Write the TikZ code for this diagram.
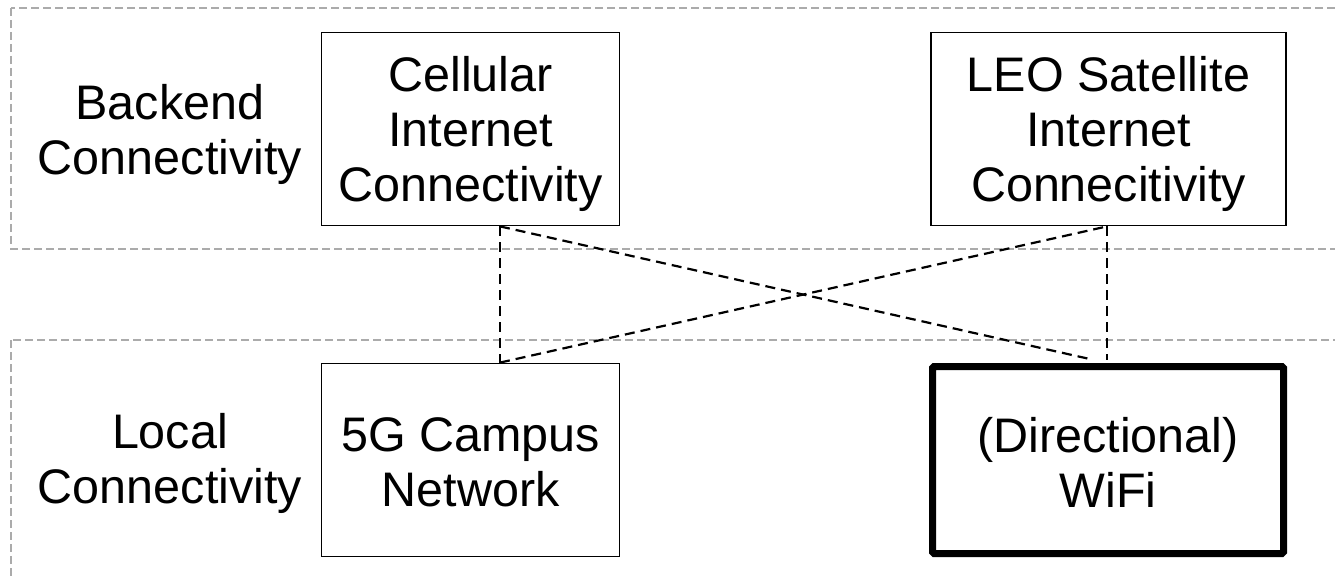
\documentclass[tikz,border=0pt]{standalone}
\usepackage{fontspec}
\setmainfont{Liberation Sans}
\usetikzlibrary{calc}
\definecolor{regiongray}{HTML}{ABABAB}
\begin{document}
\begin{tikzpicture}[x=1pt,y=-1pt,
  region/.style={draw=regiongray,line width=1.8pt,dash pattern=on 8pt off 4pt},
  txt/.style={font=\fontsize{48.5}{55}\selectfont,align=center,inner sep=0pt},
  box/.style={draw=black,line width=1.8pt,minimum width=298pt,minimum height=193pt,inner sep=0pt},
  boldbox/.style={draw=black,line width=7pt,rounded corners=1.5pt,minimum width=351pt,minimum height=187pt,inner sep=0pt},
  link/.style={draw=black,line width=2.2pt,dash pattern=on 10pt off 6pt}]
\useasboundingbox (0,0) rectangle (1335,580);
\clip (0,0) rectangle (1335,580);
\draw[region] (11,8) rectangle (1350,249);
\draw[region] (11,340) rectangle (1350,620);
\node[txt] (backend) at (170,134) {Backend\\Connectivity};
\node[txt] (local) at (170,463) {Local\\Connectivity};
\node[box] (cell) at (470.5,129) {};
\node[txt] (celltxt) at ($(cell.center)+(0,5)$) {Cellular\\Internet\\Connectivity};
\node[box,minimum width=355pt] (leo) at (1108.5,129) {};
\node[txt] (leotxt) at ($(leo.center)+(0,5)$) {LEO Satellite\\Internet\\Connecitivity};
\node[box] (campus) at (470.5,460) {};
\node[txt] (campustxt) at ($(campus.center)+(0,2)$) {5G Campus\\Network};
\node[boldbox] (wifi) at (1108,460) {};
\node[txt] (wifitxt) at ($(wifi.center)+(0,2)$) {(Directional)\\WiFi};
\coordinate (ct) at ($(cell.south)+(29.5,0)$);
\coordinate (cb) at ($(campus.north)+(29.5,0)$);
\coordinate (lt) at ($(leo.south)+(-1.5,0)$);
\coordinate (wb) at ($(wifi.north)+(-1,-3.5)$);
\coordinate (wbl) at ($(wifi.north)+(-16,-3.5)$);
\draw[link] (ct) -- (cb);
\draw[link] (lt) -- (wb);
\draw[link] (ct) -- (wbl);
\draw[link] (cb) -- (lt);
\end{tikzpicture}
\end{document}
